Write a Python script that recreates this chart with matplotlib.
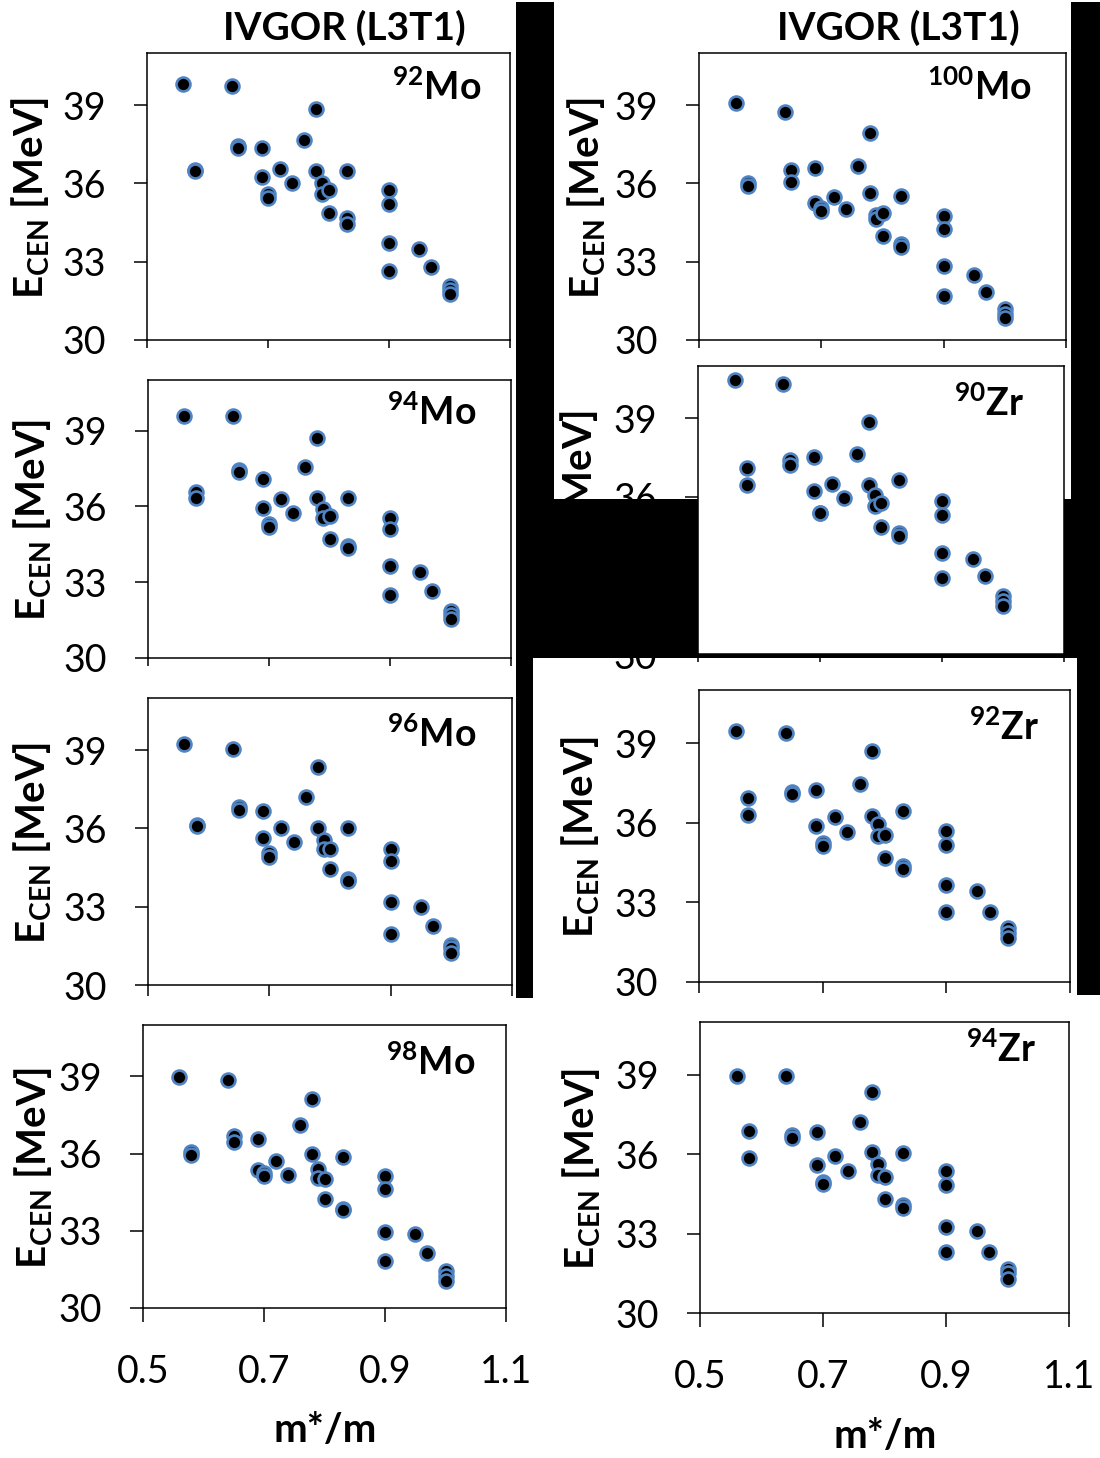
import matplotlib.pyplot as plt
from matplotlib.patches import Rectangle

plt.rcParams['font.family'] = ['Lato', 'DejaVu Sans']
plt.rcParams['mathtext.default'] = 'regular'

W, H = 1100, 1458

# effective mass of the Skyrme forces, same for every nucleus
m_eff = [0.56, 0.58, 0.58, 0.64, 0.65, 0.65, 0.69, 0.69, 0.70, 0.70, 0.72, 0.74,
         0.76, 0.78, 0.78, 0.79, 0.79, 0.80, 0.80, 0.83, 0.83, 0.83,
         0.90, 0.90, 0.90, 0.90, 0.95, 0.97, 1.00, 1.00, 1.00]

# centroid energies E_CEN [MeV]
e_mo92 = [39.83, 36.52, 36.46, 39.75, 37.42, 37.36, 37.37, 36.23, 35.60, 35.45, 36.57, 36.00,
          37.66, 38.85, 36.49, 36.03, 35.58, 35.74, 34.85, 36.49, 34.66, 34.44,
          35.74, 35.20, 33.70, 32.66, 33.47, 32.81, 32.07, 31.90, 31.75]
e_mo94 = [39.59, 36.55, 36.35, 39.59, 37.42, 37.35, 37.07, 35.95, 35.30, 35.20, 36.30, 35.75,
          37.55, 38.70, 36.35, 35.90, 35.55, 35.60, 34.70, 36.35, 34.42, 34.35,
          35.55, 35.10, 33.65, 32.50, 33.40, 32.65, 31.85, 31.70, 31.55]
e_mo96 = [39.23, 36.15, 36.10, 39.04, 36.82, 36.72, 36.65, 35.62, 35.05, 34.92, 36.00, 35.50,
          37.19, 38.35, 36.00, 35.54, 35.23, 35.20, 34.44, 36.00, 34.07, 34.00,
          35.23, 34.74, 33.17, 31.97, 32.98, 32.25, 31.55, 31.40, 31.23]
e_mo98 = [38.99, 36.05, 35.95, 38.86, 36.69, 36.45, 36.56, 35.36, 35.25, 35.12, 35.71, 35.17,
          37.10, 38.12, 35.97, 35.42, 35.06, 35.00, 34.22, 35.88, 33.86, 33.80,
          35.13, 34.61, 32.95, 31.82, 32.86, 32.12, 31.43, 31.23, 31.04]
e_mo100 = [39.09, 36.00, 35.90, 38.75, 36.52, 36.07, 36.58, 35.25, 35.05, 34.95, 35.50, 35.02,
           36.67, 37.94, 35.65, 34.80, 34.62, 34.87, 34.00, 35.53, 33.69, 33.57,
           34.76, 34.25, 32.85, 31.68, 32.51, 31.85, 31.18, 30.98, 30.86]
e_zr90 = [40.46, 37.11, 36.44, 40.30, 37.42, 37.23, 37.52, 36.22, 35.39, 35.39, 36.51, 35.97,
          37.65, 38.87, 36.47, 36.09, 35.65, 35.77, 34.86, 36.63, 34.63, 34.51,
          35.85, 35.30, 33.85, 32.92, 33.63, 32.99, 32.20, 32.01, 31.82]
e_zr92 = [39.45, 36.94, 36.28, 39.38, 37.16, 37.10, 37.22, 35.88, 35.25, 35.12, 36.22, 35.65,
          37.47, 38.70, 36.26, 35.94, 35.49, 35.53, 34.69, 36.43, 34.38, 34.25,
          35.69, 35.15, 33.65, 32.65, 33.42, 32.62, 32.02, 31.83, 31.64]
e_zr94 = [38.95, 36.89, 35.86, 38.95, 36.74, 36.62, 36.83, 35.61, 34.95, 34.88, 35.95, 35.36,
          37.21, 38.34, 36.08, 35.63, 35.23, 35.14, 34.31, 36.03, 34.10, 33.97,
          35.36, 34.83, 33.24, 32.31, 33.09, 32.31, 31.66, 31.51, 31.28]

x_ticks = [0.5, 0.7, 0.9, 1.1]
x_ticklabels = ['0.5', '0.7', '0.9', '1.1']
y_ticks = [30, 33, 36, 39]
y_ticklabels = ['30', '33', '36', '39']

title = 'IVGOR (L3T1)'
ylab = 'E$_{CEN}$ [MeV]'
xlab = 'm*/m'

fig = plt.figure(figsize=(W / 100, H / 100), dpi=100)
fig.patch.set_facecolor('white')


def fx(x):
    return x / W


def fy(y):
    return 1 - y / H


def px_axes(left, top, right, bottom, z=0):
    return fig.add_axes([fx(left), fy(bottom), (right - left) / W, (bottom - top) / H], zorder=z)


def setup(ax, xlen, show_x):
    ax.set_xlim(0.5, 1.1)
    ax.set_ylim(30, 41)
    ax.set_xticks(x_ticks)
    ax.set_xticklabels(x_ticklabels)
    ax.set_yticks(y_ticks)
    ax.set_yticklabels(y_ticklabels)
    ax.tick_params(axis='y', direction='out', length=9.4, width=1.1, pad=20, labelsize=27)
    ax.tick_params(axis='x', direction='out', length=xlen, width=1.1, pad=23,
                   labelsize=27, labelbottom=show_x)
    for s in ax.spines.values():
        s.set_linewidth(1.1)


def dots(ax, e):
    ax.plot(m_eff, e, 'o', ms=10, mfc='black', mec='#4f83c2', mew=1.9)


def nucleus(x, y, a, el, z=3):
    fig.text(fx(x), fy(y), '$^{%d}$%s' % (a, el), ha='right', va='baseline',
             fontsize=27, fontweight='bold', zorder=z)


# name, data, box (left, top, right, bottom), label anchor, ylabel x, x tick length, x labels
panels = [
    (92, 'Mo', e_mo92, (147, 53, 510, 340), (482, 100), 31, 6, False),
    (94, 'Mo', e_mo94, (148, 380, 511, 658), (477, 425), 33, 6, False),
    (96, 'Mo', e_mo96, (148, 698, 512, 985), (477, 747), 33, 8, False),
    (98, 'Mo', e_mo98, (143, 1025, 506, 1308), (476, 1075), 34, 10, True),
    (100, 'Mo', e_mo100, (699, 53, 1066, 340), (1032, 100), 587, 6, False),
    (92, 'Zr', e_zr92, (699, 690, 1070, 982), (1039, 740), 581, 8, False),
    (94, 'Zr', e_zr94, (700, 1022, 1069, 1313), (1036, 1062), 582, 10, True),
]

for a, el, e, (l, t, r, b), (lx, ly), yx, xlen, show_x in panels:
    ax = px_axes(l, t, r, b)
    setup(ax, xlen, show_x)
    dots(ax, e)
    nucleus(lx, ly, a, el)
    fig.text(fx(yx), fy((t + b) / 2 + 1), ylab, rotation=90, ha='center', va='center',
             fontsize=29, fontweight='bold')
    if show_x:
        fig.text(fx((l + r) / 2 + 1), fy(b + 123), xlab, ha='center', va='center',
                 fontsize=29, fontweight='bold')

# 90Zr: ticks and labels sit under the black band, the plot box on top of it
l, t, r, b = 698, 366, 1064, 654
ax_lab = px_axes(l, t, r, b, z=0.5)
setup(ax_lab, 6, False)
ax_lab.patch.set_visible(False)
for s in ax_lab.spines.values():
    s.set_visible(False)
fig.text(fx(580), fy((t + b) / 2 + 1), ylab, rotation=90, ha='center', va='center',
         fontsize=29, fontweight='bold', zorder=0.5)

ax_zr90 = px_axes(l, t, r, b, z=2)
setup(ax_zr90, 6, False)
ax_zr90.tick_params(left=False, bottom=False, labelleft=False, labelbottom=False)
dots(ax_zr90, e_zr90)
nucleus(1024, 416, 90, 'Zr')

# titles
fig.text(fx(344), fy(28), title, ha='center', va='center', fontsize=28, fontweight='bold')
fig.text(fx(898), fy(28), title, ha='center', va='center', fontsize=28, fontweight='bold')

# black filler between the pasted panels
for x0, y0, x1, y1 in [(516, 2, 554, 499), (1071, 2, 1100, 499), (516, 499, 1100, 658),
                       (516, 658, 533, 998), (1077, 658, 1100, 995)]:
    fig.patches.append(Rectangle((fx(x0), fy(y1)), (x1 - x0) / W, (y1 - y0) / H,
                                 transform=fig.transFigure, facecolor='black',
                                 edgecolor='none', zorder=1))

fig.savefig('out.png', dpi=100)
